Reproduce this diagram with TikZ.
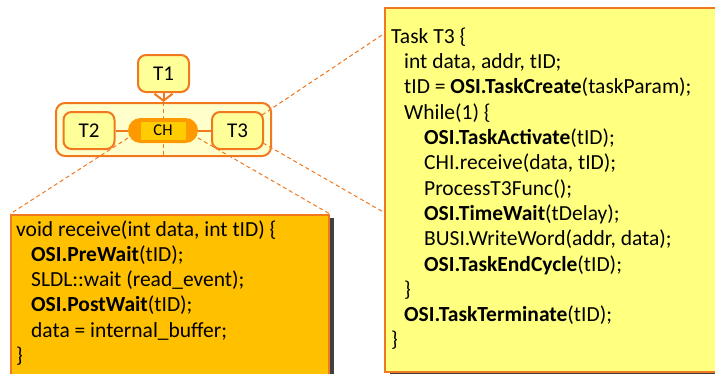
\documentclass[tikz,border=0pt]{standalone}
\usepackage{fontspec}
\setmainfont{Carlito}
\usetikzlibrary{arrows.meta,shadows}
\definecolor{edgeorange}{RGB}{240,120,30}
\definecolor{taskfill}{RGB}{255,255,153}
\definecolor{groupfill}{RGB}{255,255,204}
\definecolor{pillfill}{RGB}{255,153,0}
\definecolor{chfill}{RGB}{255,204,0}
\definecolor{recvfill}{RGB}{255,192,0}
\definecolor{codefill}{RGB}{255,255,128}
\definecolor{shadowgrey}{RGB}{64,64,64}
\begin{document}
\begin{tikzpicture}[x=1pt,y=-1pt,
  tbox/.style={draw=edgeorange, line width=2pt, fill=taskfill, rounded corners=8pt,
    minimum width=51pt, minimum height=37pt, inner sep=0pt,
    font=\fontsize{21}{24}\selectfont},
  groupbox/.style={draw=edgeorange, line width=2pt, fill=groupfill, rounded corners=9pt,
    minimum width=215pt, minimum height=53pt, inner sep=0pt},
  pill/.style={fill=pillfill, rounded corners=12.5pt, minimum width=70pt,
    minimum height=25pt, inner sep=0pt},
  chbox/.style={fill=chfill, minimum width=45pt, minimum height=18pt, inner sep=0pt,
    font=\fontsize{16.5}{18}\selectfont},
  link/.style={draw=edgeorange, line width=2pt},
  guide/.style={draw=edgeorange, line width=1pt, dash pattern=on 4pt off 3pt},
  codebox/.style={draw=edgeorange, line width=2pt, anchor=north west, inner sep=0pt,
    drop shadow={shadow xshift=5pt, shadow yshift=-3pt, fill=shadowgrey, opacity=1}},
  codetext/.style={anchor=base west, inner sep=0pt, font=\fontsize{21.5}{25.3}\selectfont}
]
\useasboundingbox (0,0) rectangle (715,373);
\begin{scope}
\clip (0,0) rectangle (715,373);

% task graph
\node[tbox] (t1) at (163.5,73.5) {T1};
\node[groupbox] (grp) at (163.5,129.5) {};
\draw[link, -{Straight Barb[length=7pt,width=18pt]}] (t1.south) -- (grp.north);
\draw[guide] (grp.north) -- (grp.south);
\node[tbox] (t2) at (89,130.5) {T2};
\node[tbox] (t3) at (237.5,130.5) {T3};
\node[pill] (ch) at (163,130.5) {};
\node[chbox] (chin) at (ch.center) {CH};
\draw[link] (t2.east) -- (ch.west);
\draw[link] (ch.east) -- (t3.east -| t3.west);

% code boxes
\node[codebox, fill=recvfill, minimum width=318pt, minimum height=170pt] (recv) at (10,214) {};
\node[codebox, fill=codefill, minimum width=340pt, minimum height=364pt] (task) at (384,7) {};

\node[codetext] (recvtext) at (16,236) {\vtop{%
  \hbox{void receive(int data, int tID) \{}
  \hbox{\hskip15pt\textbf{OSI.PreWait}(tID);}
  \hbox{\hskip15pt SLDL::wait (read\_event);}
  \hbox{\hskip15pt\textbf{OSI.PostWait}(tID);}
  \hbox{\hskip15pt data = internal\_buffer;}
  \hbox{\}}}};

\node[codetext] (tasktext) at (391,43.3) {\vtop{%
  \hbox{Task T3 \{}
  \hbox{\hskip13pt int data, addr, tID;}
  \hbox{\hskip13pt tID = \textbf{OSI.TaskCreate}(taskParam);}
  \hbox{\hskip13pt While(1) \{}
  \hbox{\hskip33pt\textbf{OSI.TaskActivate}(tID);}
  \hbox{\hskip33pt CHI.receive(data, tID);}
  \hbox{\hskip33pt ProcessT3Func();}
  \hbox{\hskip33pt\textbf{OSI.TimeWait}(tDelay);}
  \hbox{\hskip33pt BUSI.WriteWord(addr, data);}
  \hbox{\hskip33pt\textbf{OSI.TaskEndCycle}(tID);}
  \hbox{\hskip13pt\}}
  \hbox{\hskip13pt\textbf{OSI.TaskTerminate}(tID);}
  \hbox{\}}}};

% zoom guides
\coordinate (chl) at (128,138);
\coordinate (chr) at (198,138);
\coordinate (t3u) at (262,115);
\coordinate (t3d) at (263,143);
\coordinate (tasku) at (385,33);
\coordinate (taskd) at (385,213);
\draw[guide] (chl) -- (recv.north west);
\draw[guide] (chr) -- (recv.north east);
\draw[guide] (t3u) -- (tasku);
\draw[guide] (t3d) -- (taskd);
\end{scope}
\end{tikzpicture}
\end{document}
